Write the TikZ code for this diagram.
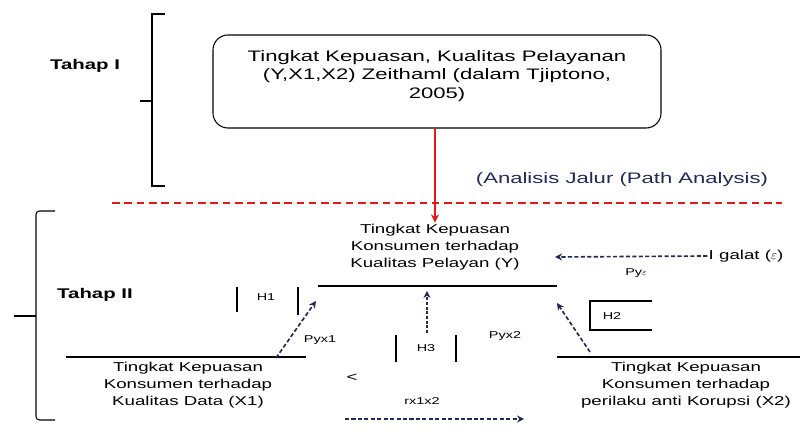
\documentclass[tikz,border=0pt]{standalone}
\usepackage{fontspec}
\setmainfont{Liberation Sans}[FakeStretch=1.45]
\usetikzlibrary{arrows.meta,positioning}
\definecolor{navy}{RGB}{35,40,85}
\definecolor{merah}{RGB}{230,25,25}

\begin{document}
\begin{tikzpicture}[x=0.03cm, y=-0.03cm, every node/.style={font=\fontsize{11}{14.5}\selectfont, inner sep=1pt},
	judul/.style={font=\fontsize{12}{14}\selectfont\bfseries},
	kecil/.style={font=\fontsize{8.5}{10}\selectfont},
	garis/.style={line width=0.9pt},
	putus/.style={navy, line width=1.4pt, dash pattern=on 3.5pt off 2pt, -{Stealth[length=6pt,width=6pt]}}]
	\useasboundingbox (0,0) rectangle (802,430);
	% tahap I
	\node[judul] (tahap1) at (85,66) {Tahap I};
	\draw[garis] (165,14) -- (152,14) -- (152,186) -- (165,186);
	\draw[garis] (140,101) -- (152,101);
	\node[draw, garis, rounded corners=0.45cm, minimum width=13.44cm, minimum height=2.79cm] (kerangka) at (437,81.5) {};
	\node[align=center, font=\fontsize{13}{16}\selectfont] (kerangkateks) at (437,76) {Tingkat Kepuasan, Kualitas Pelayanan\\(Y,X1,X2) Zeithaml (dalam Tjiptono,\\2005)};
	\node[navy, font=\fontsize{13}{16}\selectfont] (analisis) at (622,180) {(Analisis Jalur (Path Analysis)};
	\draw[merah, line width=0.9pt, dash pattern=on 6.5pt off 4pt] (112,203) -- (782,203);
	% tahap II
	\node[judul] (tahap2) at (95,295) {Tahap II};
	\draw[garis, rounded corners=3pt] (55,211) -- (36,211) -- (36,420) -- (55,420);
	\draw[garis] (14,316) -- (36,316);
	\node[align=center] (y) at (435,247) {Tingkat Kepuasan\\Konsumen terhadap\\Kualitas Pelayan (Y)};
	\draw[merah, line width=1.8pt, -{Stealth[length=7pt,width=7pt]}] (kerangka.south -| y) -- (y.north);
	\draw[garis] (318,286) -- (557,286);
	\node[align=center] (x1) at (188,385) {Tingkat Kepuasan\\Konsumen terhadap\\Kualitas Data (X1)};
	\draw[garis] (66,357) -- (306,357);
	\node[align=center] (x2) at (686,385) {Tingkat Kepuasan\\Konsumen terhadap\\perilaku anti Korupsi (X2)};
	\draw[garis] (557,357) -- (800,357);
	% galat
	\node (galat) at (746,256) {I galat ($\varepsilon$)};
	\coordinate (galatujung) at (555,257);
	\draw[putus] (galat.west) -- (galatujung);
	\node[kecil] (pye) at (636,273) {Py$\varepsilon$};
	% H1
	\node[kecil] (h1) at (266,297) {H1};
	\draw[garis] (237,287) -- (237,312);
	\draw[garis] (298,287) -- (298,315);
	\coordinate (h1awal) at (276,358);
	\coordinate (h1akhir) at (316,301);
	\draw[putus] (h1awal) -- (h1akhir);
	\node[kecil] (pyx1) at (320,340) {Pyx1};
	% H3
	\node[kecil] (h3) at (426,348) {H3};
	\draw[garis] (396,335) -- (396,362);
	\draw[garis] (456,335) -- (456,362);
	\coordinate (h3awal) at (427,333);
	\coordinate (h3akhir) at (427,291);
	\draw[putus, line width=1.8pt, dash pattern=on 2.5pt off 1.5pt] (h3awal) -- (h3akhir);
	% H2
	\node[kecil] (h2) at (612,316) {H2};
	\draw[garis] (652,301) -- (590,301) -- (590,330) -- (652,330);
	\coordinate (h2awal) at (590,352);
	\coordinate (h2akhir) at (557,303);
	\draw[putus] (h2awal) -- (h2akhir);
	\node[kecil] (pyx2) at (505,336) {Pyx2};
	% korelasi
	\node (kurang) at (352,378) {<};
	\node[kecil] (rx1x2) at (422,401) {rx1x2};
	\coordinate (rawal) at (345,419);
	\coordinate (rakhir) at (524,419);
	\draw[putus] (rawal) -- (rakhir);
\end{tikzpicture}
\end{document}
